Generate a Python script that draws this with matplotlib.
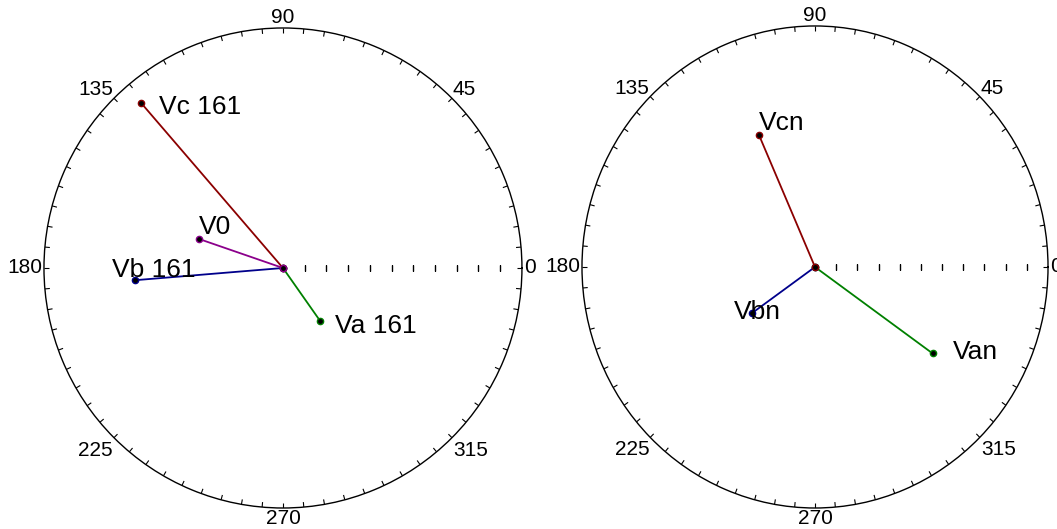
import numpy as np
import matplotlib
matplotlib.use("Agg")
import matplotlib.pyplot as plt

plt.rcParams['font.family'] = ['Liberation Sans', 'DejaVu Sans']

# ----------------- datos de fasores -----------------
# diagrama izquierdo
izq_nombres = ['Va 161', 'Vb 161', 'Vc 161', 'V0']
izq_angulos = [305.2, 184.7, 130.8, 161.0]   # grados
izq_modulos = [2.96, 6.85, 10.0, 4.1]
izq_colores = ['#008000', '#00008b', '#8b0000', '#8b008b']

# diagrama derecho
der_nombres = ['Van', 'Vbn', 'Vcn']
der_angulos = [324.6, 215.3, 113.7]
der_modulos = [6.81, 3.64, 6.56]
der_colores = ['#008000', '#00008b', '#8b0000']

r_max = 11
r_ticks = np.arange(1, 11)
ang_labels = np.arange(0, 360, 45)
ang_marcas = np.arange(0, 360, 5)

# desplazamiento de etiquetas (px) y alineacion vertical
izq_offsets = [(15, -5, 'center'), (-23, 3, 'baseline'), (18, -4, 'center'), (0, 5, 'baseline')]
der_offsets = [(20, 1, 'center'), (-18, 1, 'center'), (0, 5, 'baseline')]

# colocacion de las etiquetas angulares: (dx, dy, ha, va)
pos_ang = {0: (2, 0, 'left', 'center'),
           45: (1, 3, 'left', 'baseline'),
           90: (0, 5, 'center', 'baseline'),
           135: (-1, 3, 'right', 'baseline'),
           180: (-2, 0, 'right', 'center'),
           225: (-1, -3, 'right', 'top'),
           270: (0, -1, 'center', 'top'),
           315: (1, -3, 'left', 'top')}


def fasores(ax, nombres, angulos, modulos, colores, offsets):
    for nom, ang, mod, col, off in zip(nombres, angulos, modulos, colores, offsets):
        th = np.deg2rad(ang)
        ax.plot([0, th], [0, mod], '-', color=col, linewidth=1.3,
                marker='o', markersize=4.5, markerfacecolor='black',
                markeredgecolor=col, markeredgewidth=1.0, zorder=3)
        ax.annotate(nom, (th, mod), xytext=(off[0], off[1]), textcoords='offset pixels',
                    ha='left', va=off[2], fontsize=19, zorder=4)

    ax.set_rlim(0, r_max)
    ax.set_yticks([])
    ax.set_xticks([])
    ax.grid(False)
    ax.set_aspect('auto')
    ax.spines['polar'].set_linewidth(1.0)

    # etiquetas cada 45 grados
    for a in ang_labels:
        dx, dy, ha, va = pos_ang[a]
        ax.annotate(str(a), (np.deg2rad(a), r_max), xytext=(dx, dy),
                    textcoords='offset pixels', ha=ha, va=va, fontsize=15,
                    annotation_clip=False)

    # marcas cada 5 grados hacia dentro del circulo
    ax.vlines(np.deg2rad(ang_marcas), r_max * (1 - 5 / 239), r_max,
              colors='black', linewidth=0.8, zorder=2)
    # marcas radiales sobre el eje de 0 grados
    ax.plot(np.zeros(len(r_ticks)), r_ticks, linestyle='none', marker='|',
            markersize=5, color='black', markeredgewidth=1.0, zorder=2)
    ax.set_rlim(0, r_max)


fig = plt.figure(figsize=(10.57, 5.29), dpi=100)
ax1 = fig.add_axes([0.0416, 0.0397, 0.4522, 0.9074], projection='polar')
ax2 = fig.add_axes([0.5506, 0.0397, 0.4409, 0.9112], projection='polar')

fasores(ax1, izq_nombres, izq_angulos, izq_modulos, izq_colores, izq_offsets)
fasores(ax2, der_nombres, der_angulos, der_modulos, der_colores, der_offsets)

fig.savefig("out.png", dpi=100)
plt.close()
